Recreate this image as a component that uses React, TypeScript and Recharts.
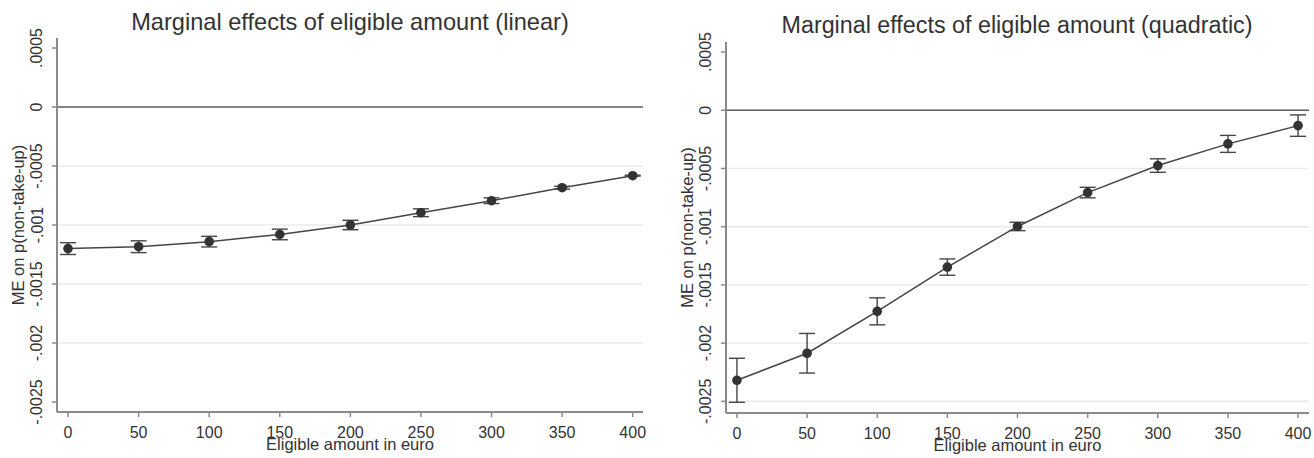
import React from 'react';
import { LineChart, Line, XAxis, YAxis, ReferenceLine, ErrorBar, Label } from 'recharts';

// ---- data ----
const amounts = [0, 50, 100, 150, 200, 250, 300, 350, 400];
const linearME = [-0.0012, -0.001184, -0.001141, -0.00108, -0.001, -0.000896, -0.000794, -0.000684, -0.000582];
const linearCI = [0.00005, 0.00005, 0.000045, 0.000045, 0.00004, 0.000033, 0.000024, 0.000012, 0.000004];
const quadME = [-0.002319, -0.002087, -0.001727, -0.001347, -0.000998, -0.000707, -0.000475, -0.000289, -0.000132];
const quadCI = [0.000189, 0.00017, 0.000116, 0.00007, 0.000036, 0.000045, 0.000058, 0.000073, 0.000092];
const yTicks = [0.0005, 0, -0.0005, -0.001, -0.0015, -0.002, -0.0025];
const yTickLabels = ['.0005', '0', '-.0005', '-.001', '-.0015', '-.002', '-.0025'];
const titles = ['Marginal effects of eligible amount (linear)', 'Marginal effects of eligible amount (quadratic)'];
const xTitle = 'Eligible amount in euro';
const yTitle = 'ME on p(non-take-up)';

const FONT = '"Liberation Sans", Arial, Helvetica, sans-serif';
const TEXT = '#333';
const AXIS = '#8a8a8a';
const GRID = '#ebebeb';

const build = (me: number[], ci: number[]) => amounts.map((x, i) => ({ x, y: me[i], err: ci[i] }));

const YTick = (props: any) => {
  const { x, y, payload } = props;
  const idx = yTicks.findIndex((t) => Math.abs(t - payload.value) < 1e-9);
  const label = idx >= 0 ? yTickLabels[idx] : String(payload.value);
  const cx = x - 15;
  return (
    <text
      x={cx}
      y={y}
      transform={`rotate(-90, ${cx}, ${y})`}
      textAnchor="middle"
      dominantBaseline="central"
      fontSize={16}
      fontFamily={FONT}
      fill={TEXT}
    >
      {label}
    </text>
  );
};

type PanelProps = {
  data: { x: number; y: number; err: number }[];
  width: number;
  yAxisWidth: number;
  margin: { top: number; right: number; bottom: number; left: number };
  xDomain: [number, number];
  yDomain: [number, number];
  grids: number[];
};

const Panel = ({ data, width, yAxisWidth, margin, xDomain, yDomain, grids }: PanelProps) => (
  <LineChart width={width} height={458} data={data} margin={margin}>
    <XAxis
      type="number"
      dataKey="x"
      domain={xDomain}
      ticks={amounts}
      allowDataOverflow
      height={30}
      tickSize={5}
      tickMargin={10}
      axisLine={{ stroke: AXIS, strokeWidth: 2 }}
      tickLine={{ stroke: AXIS, strokeWidth: 1.5 }}
      tick={{ fontSize: 16, fill: TEXT, fontFamily: FONT }}
    >
      <Label
        content={(p: any) => {
          const vb = p.viewBox || {};
          return (
            <text
              x={vb.x + vb.width / 2}
              y={vb.y + 38}
              textAnchor="middle"
              fontSize={16.5}
              fontFamily={FONT}
              fill={TEXT}
            >
              {xTitle}
            </text>
          );
        }}
      />
    </XAxis>
    <YAxis
      type="number"
      domain={yDomain}
      ticks={yTicks}
      allowDataOverflow
      width={yAxisWidth}
      tickSize={5}
      tickMargin={0}
      axisLine={{ stroke: AXIS, strokeWidth: 2 }}
      tickLine={{ stroke: AXIS, strokeWidth: 1.5 }}
      tick={<YTick />}
    >
      <Label
        content={(p: any) => {
          const vb = p.viewBox || {};
          const cx = vb.x + vb.width - 39;
          const cy = vb.y + vb.height / 2;
          return (
            <text
              x={cx}
              y={cy}
              transform={`rotate(-90, ${cx}, ${cy})`}
              textAnchor="middle"
              dominantBaseline="central"
              fontSize={16.5}
              fontFamily={FONT}
              fill={TEXT}
            >
              {yTitle}
            </text>
          );
        }}
      />
    </YAxis>
    {grids.map((g) => (
      <ReferenceLine key={g} y={g} stroke={GRID} strokeWidth={1.5} />
    ))}
    <ReferenceLine y={0} stroke="#5a5a5a" strokeWidth={1.6} />
    <Line
      type="linear"
      dataKey="y"
      stroke="#454545"
      strokeWidth={1.5}
      dot={{ r: 4.8, fill: '#333', stroke: '#333', strokeWidth: 0 }}
      activeDot={false}
      isAnimationActive={false}
    >
      <ErrorBar dataKey="err" direction="y" width={8} stroke="#454545" strokeWidth={1.4} />
    </Line>
  </LineChart>
);

export default function App() {
  return (
    <div style={{ position: 'absolute', left: 0, top: 0, width: 1314, height: 458, background: '#fff' }}>
      <div style={{ position: 'absolute', left: 0, top: 0 }}>
        <Panel
          data={build(linearME, linearCI)}
          width={660}
          yAxisWidth={57}
          margin={{ top: 38, right: 17, bottom: 16, left: 0 }}
          xDomain={[-7.8, 407.3]}
          yDomain={[-0.002585, 0.000585]}
          grids={[-0.0005, -0.001, -0.0015, -0.002]}
        />
      </div>
      <div style={{ position: 'absolute', left: 660, top: 0 }}>
        <Panel
          data={build(quadME, quadCI)}
          width={654}
          yAxisWidth={66}
          margin={{ top: 42, right: 5, bottom: 15, left: 0 }}
          xDomain={[-7.8, 407.8]}
          yDomain={[-0.0026, 0.000586]}
          grids={[-0.0005, -0.001, -0.0015, -0.002, -0.0025]}
        />
      </div>
      <svg
        width={1314}
        height={458}
        style={{ position: 'absolute', left: 0, top: 0, pointerEvents: 'none' }}
      >
        <text x={350} y={30} textAnchor="middle" fontSize={23.6} fontFamily={FONT} fill={TEXT}>
          {titles[0]}
        </text>
        <text x={1017} y={33} textAnchor="middle" fontSize={23.3} fontFamily={FONT} fill={TEXT}>
          {titles[1]}
        </text>
      </svg>
    </div>
  );
}
